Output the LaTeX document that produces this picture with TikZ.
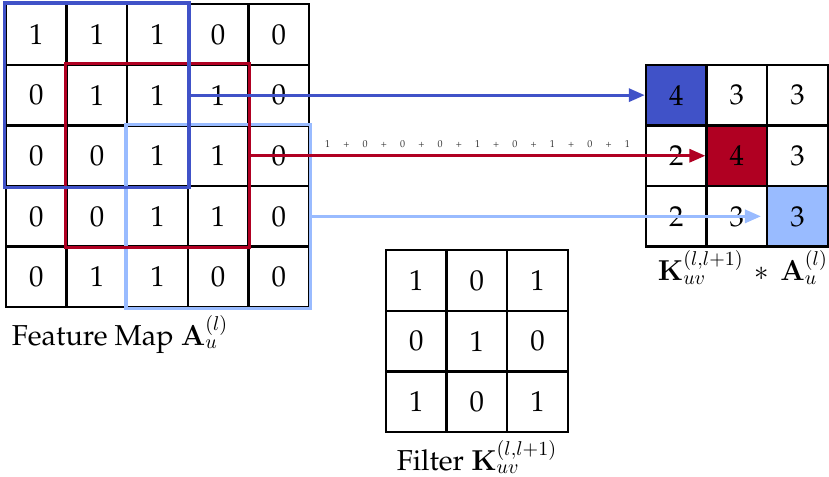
\documentclass[tikz,border=0pt]{standalone}
\usepackage{amsmath, amssymb}
\usepackage[T1]{fontenc}
\usepackage{palatino}
\usepackage{tikz}
\usetikzlibrary{arrows.meta}

\definecolor{winblue}{RGB}{64,82,200}
\definecolor{winred}{RGB}{176,0,34}
\definecolor{winlight}{RGB}{153,187,255}

\newcommand{\pgap}{\hspace{6.6pt}+\hspace{6.6pt}}

\begin{document}
\begin{tikzpicture}[x=1.065cm, y=1.065cm, >={Triangle[length=8pt, width=6.5pt]},
  cell/.style={draw, line width=1.2pt, minimum size=1.065cm, inner sep=0pt, font=\Large},
  caption/.style={font=\Large},
  window/.style={line width=1.6pt},
  conv/.style={->, line width=1.6pt}]

  \useasboundingbox (-0.1,0.07) rectangle (13.58,-7.79);

  % Feature map
  \foreach \row [count=\r from 0] in {{1,1,1,0,0},{0,1,1,1,0},{0,0,1,1,0},{0,0,1,1,0},{0,1,1,0,0}} {
    \foreach \val [count=\c from 0] in \row {
      \node[cell] (fm-\r-\c) at (\c+0.5,-\r-0.5) {\val};
    }
  }
  \node[caption, below right] (fmlabel) at (fm-4-0.south west) {Feature Map $\mathbf{A}_u^{(l)}$};

  % Filter
  \foreach \row [count=\r from 0] in {{1,0,1},{0,1,0},{1,0,1}} {
    \foreach \val [count=\c from 0] in \row {
      \node[cell] (filt-\r-\c) at (6.77+\c,-4.56-\r) {\val};
    }
  }
  \node[caption, below] (filtlabel) at (filt-2-1.south) {Filter $\mathbf{K}_{uv}^{(l,l+1)}$};

  % Output
  \foreach \r/\c/\val/\fc in {0/0/4/winblue, 0/1/3/white, 0/2/3/white,
                              1/0/2/white, 1/1/4/winred, 1/2/3/white,
                              2/0/2/white, 2/1/3/white, 2/2/3/winlight} {
    \node[cell, fill=\fc] (out-\r-\c) at (11.06+\c,-1.5-\r) {\val};
  }
  \node[caption, below, yshift=2pt, xshift=3pt] (outlabel) at (out-2-1.south) {$\mathbf{K}_{uv}^{(l,l+1)} \,\ast\, \mathbf{A}_u^{(l)}$};

  % Windows
  \draw[window, winlight] (fm-2-2.north west) rectangle (fm-4-4.south east);
  \draw[window, winred] (fm-1-1.north west) rectangle (fm-3-3.south east);
  \draw[window, winblue] (fm-0-0.north west) rectangle (fm-2-2.south east);

  % Arrows
  \draw[conv, winblue] (fm-1-2.east) -- (out-0-0.west);
  \draw[conv, winred] (fm-2-3.east) -- node[above, font=\tiny, text=black!80] (sumtext)
    {1\pgap0\pgap0\pgap0\pgap1\pgap0\pgap1\pgap0\pgap1} (out-1-1.west);
  \draw[conv, winlight, shorten >=2.5pt] (fm-3-4.east) -- (out-2-2.west);

\end{tikzpicture}
\end{document}
